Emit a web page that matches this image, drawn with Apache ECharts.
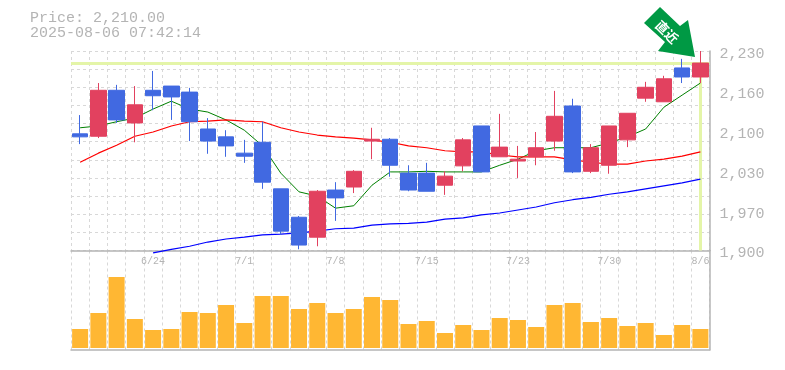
<!DOCTYPE html>
<html><head><meta charset="utf-8">
<style>html,body{margin:0;padding:0;background:#fff}#c{width:785px;height:370px}</style>
<script src="https://cdn.jsdelivr.net/npm/echarts@6/dist/echarts.min.js"></script>
</head><body><div id="c"></div>
<script>
const dates = ['6/18','6/19','6/20','6/23','6/24','6/25','6/26','6/27','6/30','7/1','7/2','7/3','7/4','7/7','7/8','7/9','7/10','7/11','7/14','7/15','7/16','7/17','7/18','7/22','7/23','7/24','7/25','7/28','7/29','7/30','7/31','8/1','8/4','8/5','8/6'];
const shownDates = ['6/24','7/1','7/8','7/15','7/23','7/30','8/6'];
// open, close, low, high
const candles = [
[2093,2088,2076,2124],[2089,2165,2086,2177],[2165,2116,2111,2174],[2111,2141,2079,2172],[2165,2156,2132,2197],
[2172,2154,2116,2172],[2162,2113,2081,2169],[2101,2081,2060,2119],[2088,2073,2055,2099],[2061,2056,2045,2083],
[2079,2013,2002,2113],[2002,1932,1926,2002],[1955,1909,1902,1957],[1922,1998,1907,2000],[2000,1987,1949,2013],
[2005,2031,1995,2033],[2081,2084,2051,2103],[2084,2041,2022,2086],[2028,2000,1998,2041],[2028,1998,1998,2045],
[2008,2023,1992,2031],[2040,2083,2031,2086],[2106,2030,2030,2106],[2055,2071,2055,2126],[2048,2051,2020,2073],
[2055,2070,2041,2096],[2081,2122,2065,2164],[2139,2030,2028,2151],[2031,2070,2028,2076],[2041,2106,2027,2106],
[2083,2127,2071,2127],[2152,2170,2146,2179],[2146,2184,2146,2189],[2202,2187,2177,2217],[2187,2210,2177,2230]];
const maShort = [2103,2106,2113,2119,2134,2147,2134,2129,2116,2099,2073,2028,1997,1990,1970,1974,2008,2030,2030,2031,2030,2030,2030,2041,2051,2065,2070,2070,2070,2078,2088,2101,2137,2157,2177];
const maMid = [2046,2061,2074,2089,2096,2106,2113,2114,2116,2114,2113,2103,2096,2091,2088,2086,2083,2079,2073,2070,2065,2063,2063,2058,2055,2055,2055,2050,2046,2043,2043,2048,2051,2056,2063];
const maLong = [null,null,null,null,1896,1902,1907,1914,1919,1922,1926,1927,1929,1932,1936,1937,1942,1944,1945,1947,1952,1954,1959,1962,1967,1972,1979,1984,1988,1993,1997,2002,2007,2012,2018];
const volumes = [19,35,71,29,18,19,36,35,43,25,52,52,39,45,35,39,51,48,24,27,15,23,18,30,28,21,43,45,26,30,22,25,13,23,19];
const priceLabels = [1900,1966,2032,2098,2164,2230];
const currentPrice = 2210;
const lastDate = '8/6';

const grey='#b4b4b4', gridC='#d8d8d8', mono='"Liberation Mono","DejaVu Sans Mono",monospace';
const dash={color:gridC,type:[3,3],width:1};
const fmt=v=>{const r=Math.round(v/10)*10;return String(r).replace(/\B(?=(\d{3})+$)/,',');};
const chart=echarts.init(document.getElementById('c'),null,{renderer:'canvas'});
const line=(name,data,color,width)=>({name,type:'line',data,xAxisIndex:0,yAxisIndex:0,showSymbol:false,symbol:'none',clip:false,z:2,lineStyle:{color,width},silent:true,animation:false});
chart.setOption({
 animation:false,backgroundColor:'#fff',
 title:{left:25,top:6,text:'Price: 2,210.00\n2025-08-06 07:42:14',textStyle:{fontFamily:mono,fontSize:15,fontWeight:'normal',color:grey,lineHeight:15}},
 grid:[{left:71,top:51,width:638.5,height:199.5},{left:71,top:250.5,width:638.5,height:99.5}],
 xAxis:[
  {type:'category',gridIndex:0,data:dates,boundaryGap:true,
   axisLine:{show:true,onZero:false,lineStyle:{color:grey,width:1.5}},axisTick:{show:false},
   axisLabel:{show:true,interval:(i,v)=>shownDates.includes(v),fontFamily:mono,fontSize:10,color:grey,margin:6,hideOverlap:false,showMaxLabel:true},
   splitLine:{show:true,interval:0,lineStyle:dash}},
  {type:'category',gridIndex:1,data:dates,boundaryGap:true,
   axisLine:{show:true,onZero:false,lineStyle:{color:grey,width:1.5}},axisTick:{show:false},axisLabel:{show:false},
   splitLine:{show:true,interval:0,lineStyle:dash}}
 ],
 yAxis:[
  {type:'value',gridIndex:0,position:'right',min:1900,max:2230,scale:true,
   axisLine:{show:true,lineStyle:{color:grey,width:1.5}},axisTick:{show:false},splitLine:{show:false},
   axisLabel:{show:true,customValues:priceLabels,formatter:fmt,fontFamily:mono,fontSize:15,color:grey,margin:10,verticalAlign:'top',lineHeight:6}},
  {type:'value',gridIndex:0,position:'right',min:0,max:11,interval:1,axisLine:{show:false},axisTick:{show:false},axisLabel:{show:false},splitLine:{show:true,lineStyle:dash}},
  {type:'value',gridIndex:1,position:'right',min:-2,max:97.5,axisLine:{show:true,lineStyle:{color:grey,width:1.5}},axisTick:{show:false},axisLabel:{show:false},splitLine:{show:false}}
 ],
 series:[
  {name:'marker',type:'line',data:[],xAxisIndex:0,yAxisIndex:0,z:1,silent:true,
   markLine:{silent:true,z:1,symbol:'none',animation:false,label:{show:false},lineStyle:{color:'#e4f5a8',width:3,type:'solid'},
    data:[{yAxis:currentPrice},[{coord:[lastDate,currentPrice]},{coord:[lastDate,1900]}]]}},
  line('MA short',maShort,'#008000',1),
  line('MA mid',maMid,'#ff0000',1.2),
  line('MA long',maLong,'#0000ff',1.2),
  {name:'Price',type:'candlestick',data:candles,xAxisIndex:0,yAxisIndex:0,z:3,barWidth:16,silent:true,
   itemStyle:{color:'#e2415f',color0:'#4169e1',borderColor:'#e2415f',borderColor0:'#4169e1',borderWidth:1}},
  {name:'Volume',type:'bar',data:volumes,xAxisIndex:1,yAxisIndex:2,barWidth:16,silent:true,itemStyle:{color:'#ffb733'}}
 ],
 graphic:[
  {type:'polygon',z:20,shape:{points:[[660,7],[644,23],[665,42],[658,51],[695,57],[688,20],[680,26]]},style:{fill:'#009944'}},
  {type:'text',z:21,x:667,y:32,rotation:-Math.PI/4,originX:0,originY:0,style:{text:'直近',fill:'#fff',font:'bold 13px "Noto Sans CJK JP"',align:'center',verticalAlign:'middle'}}
 ]
});
</script></body></html>
